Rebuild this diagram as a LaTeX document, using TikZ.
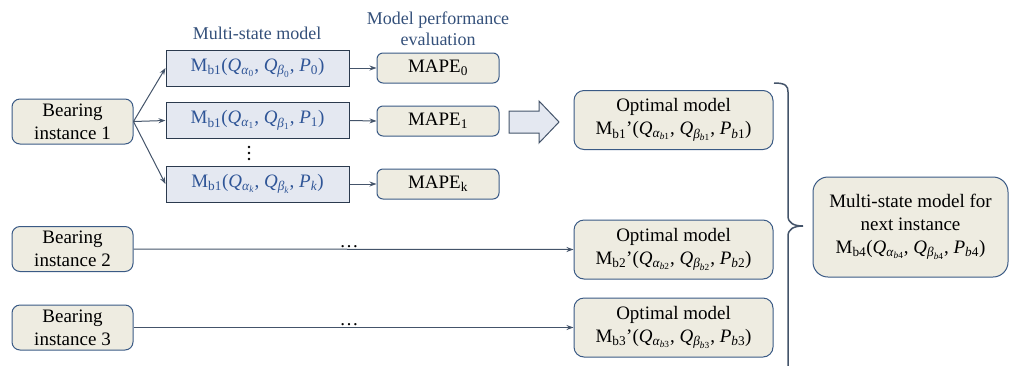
\documentclass[tikz,border=0pt]{standalone}
\usepackage{fontspec}
\setmainfont{Liberation Serif}
\usetikzlibrary{arrows.meta}
\definecolor{beige}{HTML}{EEECE1}
\definecolor{bborder}{HTML}{3A5A85}
\definecolor{mfill}{HTML}{E4E8F1}
\definecolor{mborder}{HTML}{2B3A4E}
\definecolor{mtext}{HTML}{2F5597}
\definecolor{ttext}{HTML}{34507A}
\definecolor{lcol}{HTML}{44546A}
\newcommand\Qab[2]{\textit{Q}\textsubscript{\textit{#1}\textsubscript{#2}}}
\newcommand\Pq[1]{\textit{P}\textsubscript{#1}}
\begin{document}
\begin{tikzpicture}[x=1pt,y=-1pt,
  base/.style={font=\fontsize{19}{23}\selectfont, inner sep=0pt, align=center, line width=1pt},
  bbox/.style={base, draw=bborder, fill=beige, rounded corners=8pt},
  mbox/.style={base, draw=mborder, fill=mfill, text=mtext, minimum width=183pt, minimum height=36pt},
  ebox/.style={bbox, minimum width=122pt, minimum height=30pt, rounded corners=6pt},
  obox/.style={bbox, minimum width=199pt, minimum height=59pt, rounded corners=10pt},
  inst/.style={bbox, minimum width=121pt, minimum height=45pt},
  conn/.style={draw=lcol, line width=1pt, -{Stealth[length=7pt,width=5pt]}},
  title/.style={font=\fontsize{18}{21}\selectfont, text=ttext, align=center, inner sep=0pt}
]
\useasboundingbox (0,0) rectangle (1009,365);

\node[title] (t1) at (257,33) {Multi-state model};
\node[title] (t2) at (438,29) {Model performance\\evaluation};

\node[inst] (b1) at (72.5,121.5) {Bearing\\instance 1};
\node[inst] (b2) at (72.5,249) {Bearing\\instance 2};
\node[inst] (b3) at (72.5,327.5) {Bearing\\instance 3};

\node[mbox] (m0) at (257.5,68) {M\textsubscript{b1}(\Qab{α}{0}, \Qab{β}{0}, \Pq{0})};
\node[mbox] (m1) at (257.5,120.5) {M\textsubscript{b1}(\Qab{α}{1}, \Qab{β}{1}, \Pq{1})};
\node[mbox] (mk) at (257.5,184) {M\textsubscript{b1}(\Qab{α}{\textit{k}}, \Qab{β}{\textit{k}}, \Pq{\textit{k}})};

\foreach \yy in {147,153,159} \fill (249,\yy) circle (1.4pt);

\node[ebox] (e0) at (438,68) {MAPE\textsubscript{0}};
\node[ebox] (e1) at (438,121) {MAPE\textsubscript{1}};
\node[ebox] (ek) at (438,184) {MAPE\textsubscript{k}};

\node[obox] (o1) at (673.5,120) {Optimal model\\M\textsubscript{b1}’(\Qab{α}{\textit{b}1}, \Qab{β}{\textit{b}1}, \Pq{\textit{b}1})};
\node[obox] (o2) at (673.5,249.5) {Optimal model\\M\textsubscript{b2}’(\Qab{α}{\textit{b}2}, \Qab{β}{\textit{b}2}, \Pq{\textit{b}2})};
\node[obox] (o3) at (673.5,327.5) {Optimal model\\M\textsubscript{b3}’(\Qab{α}{\textit{b}3}, \Qab{β}{\textit{b}3}, \Pq{\textit{b}3})};

\node[bbox, minimum width=195pt, minimum height=100pt, rounded corners=15pt] (nx) at (910.5,227)
  {Multi-state model for\\next instance\\M\textsubscript{b4}(\Qab{α}{\textit{b}4}, \Qab{β}{\textit{b}4}, \Pq{\textit{b}4})};

\coordinate (fan) at (b1.east);
\draw[conn] (fan) -- (m0.west);
\draw[conn] (fan) -- (m1.west);
\draw[conn] (fan) -- (mk.west);
\draw[conn] (m0.east) -- (e0.west);
\draw[conn] (m1.east) -- (e1.west);
\draw[conn] (mk.east) -- (ek.west);
\draw[conn] (b2.east) -- node[pos=0.49, above=1pt, font=\fontsize{19}{23}\selectfont, inner sep=0pt] (d2) {…} (o2.west);
\draw[conn] (b3.east) -- node[pos=0.49, above=1pt, font=\fontsize{19}{23}\selectfont, inner sep=0pt] (d3) {…} (o3.west);

% hollow block arrow
\draw[draw=lcol, fill=mfill, line width=1pt, line join=miter]
  (509,111) -- (539,111) -- (539,101) -- (559,122) -- (539,143) -- (539,133) -- (509,133) -- cycle;

% brace
\draw[draw=lcol, line width=1.5pt]
  (774,83) .. controls (786,83) and (788,86) .. (788,92)
  -- (788,216) .. controls (788,223) and (794,226) .. (803,226)
  .. controls (794,226) and (788,229) .. (788,236)
  -- (788,366);
\end{tikzpicture}
\end{document}
